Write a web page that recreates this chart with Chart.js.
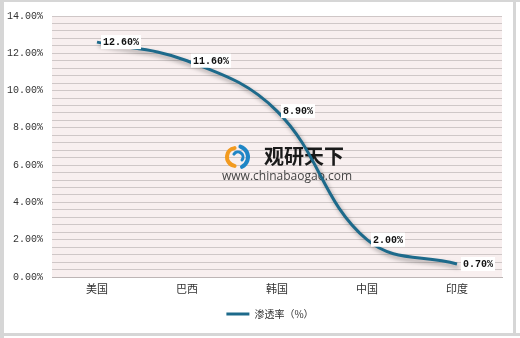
<!DOCTYPE html>
<html>
<head>
<meta charset="utf-8">
<script src="https://cdn.jsdelivr.net/npm/chart.js@4"></script>
<style>
  html, body { margin: 0; padding: 0; background: #fff; }
  #wrap { width: 520px; height: 338px; }
</style>
</head>
<body>
<div id="wrap"><canvas id="penetrationChart" width="520" height="338"></canvas></div>
<script>
// Chart data
const categories = ['美国', '巴西', '韩国', '中国', '印度'];
const penetration = [12.6, 11.6, 8.9, 2.0, 0.7];
const seriesName = '渗透率（%）';
const yMin = 0;
const yMax = 14;
const yLabelStep = 2;
const yGridStep = 0.4;

const lineColor = '#1d6a8b';
const monoFont = '"Liberation Mono", "DejaVu Sans Mono", monospace';
const cjkFont = '"Noto Sans CJK SC", "Noto Sans", sans-serif';

// Frame, plot background, watermark
const backdrop = {
    id: 'backdrop',
    afterLayout(chart) {
        // legend sits a bit right of the canvas centre
        if (chart.legend) chart.legend.left = 38;
    },
    beforeDraw(chart) {
        const ctx = chart.ctx;
        const a = chart.chartArea;
        ctx.save();
        ctx.fillStyle = '#ffffff';
        ctx.fillRect(0, 0, chart.width, chart.height);
        ctx.fillStyle = '#d6d6d6';
        ctx.fillRect(0, 0, 4, chart.height);
        ctx.fillRect(0, 0, chart.width, 2);
        ctx.fillRect(0, chart.height - 5, chart.width, 3);
        ctx.fillRect(chart.width - 7, 0, 3, chart.height - 2);
        ctx.fillStyle = '#f8efef';
        ctx.fillRect(a.left, a.top, a.right - a.left, a.bottom - a.top);
        ctx.restore();
    },
    beforeDatasetsDraw(chart) {
        const ctx = chart.ctx;
        ctx.save();
        // logo swirl
        ctx.lineCap = 'round';
        ctx.lineWidth = 4;
        ctx.strokeStyle = '#f29a1f';
        ctx.beginPath();
        ctx.arc(236, 157, 9, 0.55 * Math.PI, 1.45 * Math.PI);
        ctx.stroke();
        ctx.strokeStyle = '#1f86c6';
        ctx.beginPath();
        ctx.arc(237, 157, 11, 1.6 * Math.PI, 2.35 * Math.PI);
        ctx.stroke();
        ctx.lineWidth = 3;
        ctx.beginPath();
        ctx.arc(238, 157, 5, 1.2 * Math.PI, 2.2 * Math.PI);
        ctx.stroke();
        // text
        ctx.fillStyle = '#1a1a1a';
        ctx.font = 'bold 20px ' + cjkFont;
        ctx.textBaseline = 'middle';
        ctx.textAlign = 'left';
        ctx.fillText('观研天下', 264, 156);
        ctx.fillStyle = '#444';
        ctx.font = '12px "Open Sans", sans-serif';
        ctx.fillText('www.chinabaogao.com', 222, 177);
        ctx.restore();
    }
};

// Shadow under the line
const lineShadow = {
    id: 'lineShadow',
    beforeDatasetDraw(chart) {
        const ctx = chart.ctx;
        ctx.save();
        ctx.shadowColor = 'rgba(0,0,0,0.35)';
        ctx.shadowBlur = 4;
        ctx.shadowOffsetX = 2;
        ctx.shadowOffsetY = 3;
    },
    afterDatasetDraw(chart) {
        chart.ctx.restore();
    }
};

// Value labels in white boxes
const valueLabels = {
    id: 'valueLabels',
    afterDatasetsDraw(chart) {
        const ctx = chart.ctx;
        const meta = chart.getDatasetMeta(0);
        ctx.save();
        ctx.font = 'bold 10px ' + monoFont;
        ctx.textBaseline = 'middle';
        ctx.textAlign = 'left';
        meta.data.forEach((pt, i) => {
            const text = penetration[i].toFixed(2) + '%';
            const w = ctx.measureText(text).width;
            const x = pt.x + 4;
            const y = pt.y;
            ctx.fillStyle = '#ffffff';
            ctx.fillRect(x, y - 7, w + 4, 14);
            ctx.fillStyle = '#111';
            ctx.fillText(text, x + 2, y + 0.5);
        });
        ctx.restore();
    }
};

const penetrationChart = new Chart(
    document.getElementById('penetrationChart'),
    {
        type: 'line',
        data: {
            labels: categories,
            datasets: [{
                label: seriesName,
                data: penetration,
                borderColor: lineColor,
                backgroundColor: lineColor,
                borderWidth: 3,
                pointRadius: 0,
                tension: 0.4,
                fill: false
            }]
        },
        options: {
            responsive: false,
            animation: false,
            layout: {
                padding: { left: 0, right: 18, top: 16, bottom: 9 }
            },
            plugins: {
                legend: {
                    position: 'bottom',
                    labels: {
                        boxWidth: 23,
                        boxHeight: 3,
                        padding: 10,
                        color: '#333',
                        font: { family: cjkFont, size: 10 },
                        generateLabels(chart) {
                            const items = Chart.defaults.plugins.legend.labels.generateLabels(chart);
                            items.forEach(it => { it.lineWidth = 0; it.fillStyle = lineColor; });
                            return items;
                        }
                    }
                },
                tooltip: { enabled: false }
            },
            scales: {
                x: {
                    offset: true,
                    grid: { display: false, drawTicks: false },
                    border: { display: true, color: '#bdb5b5' },
                    ticks: {
                        padding: 5,
                        color: '#333',
                        font: { family: cjkFont, size: 11 }
                    },
                    afterFit(scale) { scale.height = 22; }
                },
                y: {
                    min: yMin,
                    max: yMax,
                    grid: { color: '#cfc7c7', lineWidth: 1, drawTicks: false },
                    border: { display: false },
                    ticks: {
                        stepSize: yGridStep,
                        autoSkip: false,
                        padding: 9,
                        color: '#333',
                        font: { family: monoFont, size: 10 },
                        callback(v) {
                            const r = v / yLabelStep;
                            return Math.abs(r - Math.round(r)) < 1e-6 ? v.toFixed(2) + '%' : '';
                        }
                    },
                    afterFit(scale) { scale.width = 52; }
                }
            }
        },
        plugins: [backdrop, lineShadow, valueLabels]
    }
);
</script>
</body>
</html>
